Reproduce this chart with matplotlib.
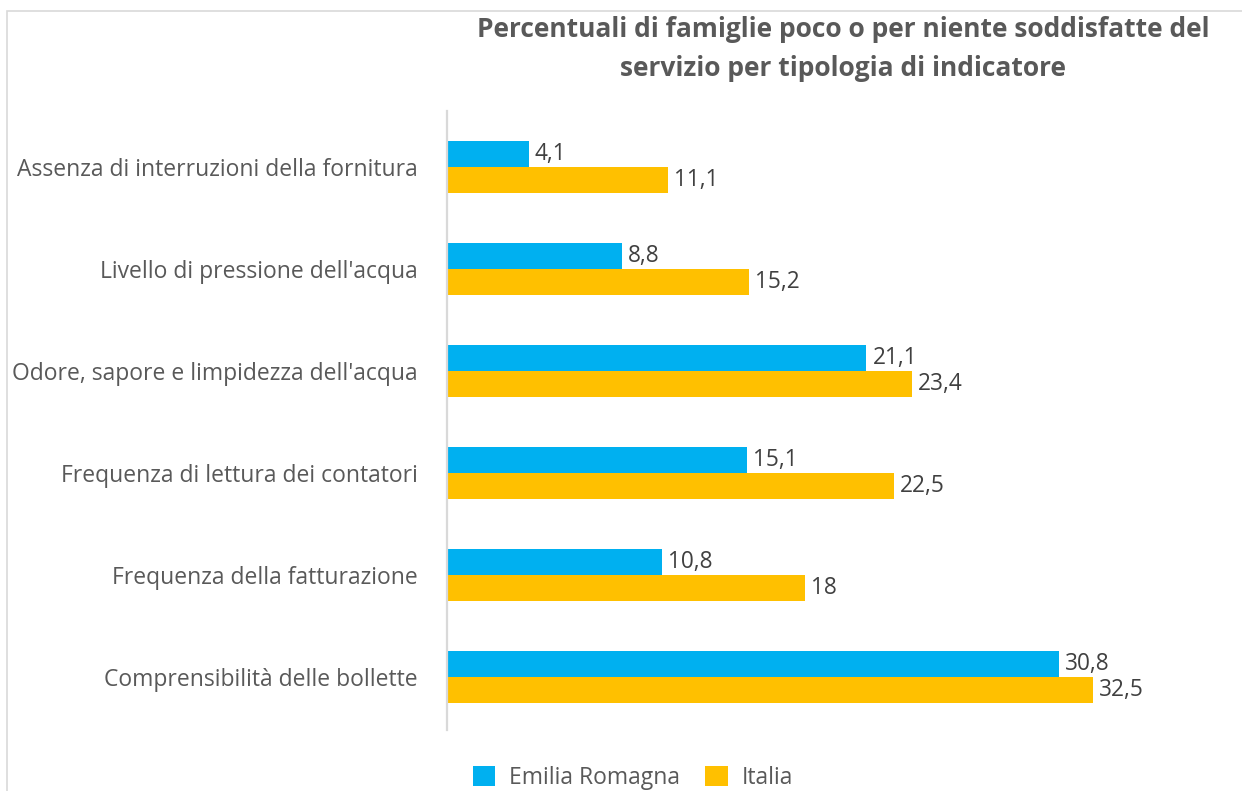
import numpy as np
import matplotlib
matplotlib.use("agg")
import matplotlib.pyplot as plt
from matplotlib.patches import Rectangle

# data (top to bottom)
categories = ["Assenza di interruzioni della fornitura",
              "Livello di pressione dell'acqua",
              "Odore, sapore e limpidezza dell'acqua",
              "Frequenza di lettura dei contatori",
              "Frequenza della fatturazione",
              "Comprensibilità delle bollette"]
emilia = [4.1, 8.8, 21.1, 15.1, 10.8, 30.8]
italia = [11.1, 15.2, 23.4, 22.5, 18, 32.5]
series_names = ["Emilia Romagna", "Italia"]
title = ("Percentuali di famiglie poco o per niente soddisfatte del\n"
         "servizio per tipologia di indicatore")

plt.rcParams['font.family'] = ['Open Sans', 'DejaVu Sans']

fig = plt.figure(figsize=(12.42, 7.91), dpi=100)
ax = fig.add_axes([447 / 1242, 61 / 791, (1230 - 447) / 1242, (730 - 111) / 791])

# light frame around the chart area (cut off at right and bottom)
fig.patches.append(Rectangle((7 / 1242, -0.05), 1.2, 1.05 - 11 / 791,
                             transform=fig.transFigure, fill=False,
                             edgecolor='#D9D9D9', linewidth=1.2))

y = np.arange(len(categories))
h = 0.255
b1 = ax.barh(y - h / 2, emilia, height=h, color='#00B0F0', label=series_names[0])
b2 = ax.barh(y + h / 2, italia, height=h, color='#FFC000', label=series_names[1])

def fmt(v):
    s = ("%.1f" % v).rstrip('0').rstrip('.')
    return s.replace('.', ',')

for bars, vals in ((b1, emilia), (b2, italia)):
    for rect, v in zip(bars, vals):
        ax.text(rect.get_width() + 0.3, rect.get_y() + rect.get_height() / 2,
                fmt(v), va='center', ha='left', fontsize=16.3, color='#404040')

ax.set_xlim(0, (1230 - 447) / 19.88)
ax.set_ylim(5.52, -0.549)
ax.set_yticks(y)
ax.set_yticklabels(categories, fontsize=16.5, color='#595959')
ax.tick_params(axis='y', length=0, pad=21)
ax.set_xticks([])
for s in ('top', 'right', 'bottom'):
    ax.spines[s].set_visible(False)
ax.spines['left'].set_color('#D9D9D9')
ax.spines['left'].set_linewidth(1.6)

fig.text(843 / 1242, 1 - 49 / 791, title, ha='center', va='center',
         fontsize=19, fontweight='bold', color='#595959', linespacing=1.6)

fig.legend(handles=[b1, b2], labels=series_names, loc='center',
           bbox_to_anchor=(633 / 1242, 13 / 791), ncol=2, frameon=False,
           fontsize=16.5, labelcolor='#595959', handlelength=1.0,
           handleheight=1.0, columnspacing=1.1, handletextpad=0.6)

fig.savefig("out.png", dpi=100)
